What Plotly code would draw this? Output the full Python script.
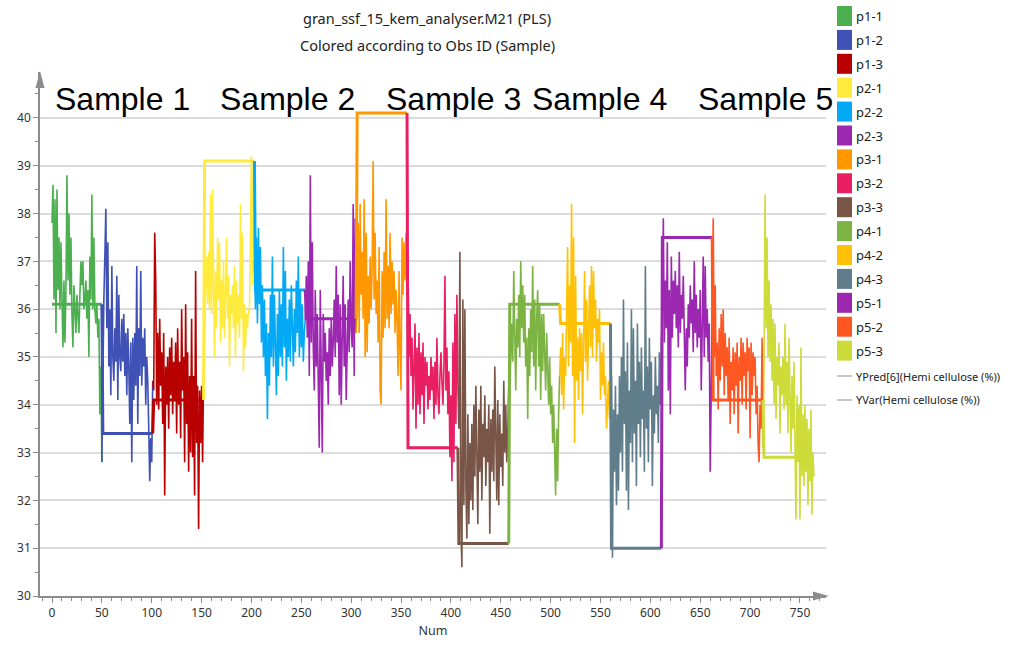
import plotly.graph_objects as go

# ---------------- data ----------------
group_names = ["p1-1", "p1-2", "p1-3", "p2-1", "p2-2", "p2-3", "p3-1", "p3-2",
               "p3-3", "p4-1", "p4-2", "p4-3", "p5-1", "p5-2", "p5-3"]
group_colors = ["#4CAF50", "#3F51B5", "#B80000", "#FFEB3B", "#03A9F4", "#9C27B0",
                "#FF9800", "#E91E63", "#795548", "#7CB342", "#FFC107", "#607D8B",
                "#9C27B0", "#FF5722", "#CDDC39"]
points_per_group = 51

# observed (YVar) value per group
yvar_values = [36.1, 33.4, 34.1, 39.1, 36.4, 35.8, 40.1, 33.1, 31.1,
               36.1, 35.7, 31.0, 37.5, 34.1, 32.9]

# predicted values (YPred[6]) per group
ypred_p1_1 = [37.8, 38.6, 36.2, 38.3, 35.5, 38.5, 36.4, 37.5, 36.0, 37.4, 36.2, 35.2, 36.6,
              35.3, 36.4, 38.8, 36.6, 38.0, 36.3, 37.5, 35.9, 35.2, 36.5, 36.0, 35.5, 36.3,
              35.9, 35.5, 36.3, 37.0, 36.5, 37.0, 36.0, 36.2, 36.6, 35.8, 36.4, 35.0, 37.1,
              36.2, 38.4, 36.0, 37.5, 36.0, 35.7, 36.1, 35.4, 35.8, 33.8, 34.8, 32.8]
ypred_p1_2 = [35.0, 36.2, 37.1, 38.1, 35.6, 37.4, 34.8, 36.0, 34.2, 36.9, 35.0, 34.5, 35.6,
              34.9, 36.7, 34.1, 36.3, 35.0, 34.7, 35.8, 34.9, 35.9, 34.6, 35.5, 34.2, 35.6,
              34.8, 33.6, 35.3, 32.8, 35.4, 34.1, 35.5, 34.4, 36.9, 33.6, 35.6, 34.6, 36.8,
              34.4, 35.4, 34.8, 35.6, 34.0, 35.0, 34.5, 33.5, 32.4, 33.3, 32.8, 34.5]
ypred_p1_3 = [34.3, 37.6, 36.6, 34.0, 35.5, 33.9, 35.8, 34.4, 35.1, 33.6, 35.5, 32.1, 34.8,
              34.0, 35.0, 33.5, 35.2, 34.2, 35.4, 33.8, 34.9, 34.1, 35.3, 33.4, 35.6, 34.0,
              34.9, 33.3, 36.0, 34.3, 35.0, 32.8, 36.1, 33.6, 35.1, 32.6, 34.6, 33.0, 35.8,
              32.9, 34.6, 32.1, 36.8, 33.2, 34.4, 31.4, 34.3, 33.2, 34.4, 32.8, 34.7]
ypred_p2_1 = [35.3, 36.6, 37.1, 36.1, 37.2, 36.0, 38.4, 35.9, 38.5, 36.5, 35.0, 36.8, 35.6,
              37.5, 36.2, 37.4, 35.3, 36.6, 35.6, 37.0, 35.4, 36.3, 37.5, 35.8, 36.7, 34.8,
              36.3, 35.9, 36.5, 35.6, 36.9, 35.0, 36.6, 35.7, 36.3, 35.4, 38.2, 35.8, 37.6,
              34.7, 36.1, 35.2, 35.9, 35.6, 36.0, 35.9, 38.1, 39.2, 36.5, 39.1, 37.0]
ypred_p2_2 = [36.0, 37.5, 35.7, 37.7, 36.1, 37.3, 35.3, 36.5, 35.0, 36.2, 34.6, 35.7, 33.7,
              35.5, 34.4, 36.3, 35.0, 37.1, 34.8, 36.3, 35.2, 34.2, 35.9, 34.6, 36.4, 35.0,
              36.1, 34.8, 37.3, 35.2, 36.8, 34.5, 35.8, 35.0, 36.2, 34.9, 36.5, 35.3, 34.8,
              36.0, 35.1, 36.6, 35.5, 37.1, 35.0, 36.4, 35.2, 36.1, 34.9, 35.5, 35.8]
ypred_p2_3 = [36.7, 35.4, 37.0, 34.6, 38.8, 35.3, 37.4, 35.2, 34.3, 36.4, 34.8, 35.9, 33.8,
              33.1, 36.4, 34.5, 33.0, 35.9, 34.9, 35.5, 34.5, 35.1, 34.0, 35.6, 34.6, 35.8,
              34.8, 35.3, 36.2, 35.0, 36.9, 35.3, 36.3, 34.2, 36.1, 34.0, 35.4, 36.7, 34.8,
              36.1, 34.1, 35.4, 36.2, 35.1, 37.0, 35.6, 35.2, 38.2, 34.6, 37.9, 35.5]
ypred_p3_1 = [36.2, 37.8, 35.5, 38.2, 36.3, 37.2, 35.8, 38.3, 35.0, 37.6, 35.1, 36.7, 35.7,
              37.1, 36.0, 36.9, 39.1, 36.2, 37.6, 35.9, 36.6, 35.3, 37.3, 34.3, 34.0, 36.8,
              35.4, 37.2, 35.6, 38.3, 35.8, 36.9, 35.6, 37.6, 35.9, 37.0, 36.1, 36.8, 35.5,
              36.4, 35.8, 34.6, 36.8, 35.1, 34.3, 37.5, 36.3, 37.4, 36.6, 37.6, 36.3]
ypred_p3_2 = [36.8, 35.0, 35.9, 34.6, 35.4, 33.9, 34.8, 35.7, 33.5, 35.2, 34.0, 35.5, 33.8,
              35.1, 34.2, 35.3, 33.6, 35.0, 34.4, 34.9, 33.9, 34.6, 34.1, 35.0, 34.3, 34.8,
              33.7, 34.9, 34.0, 35.4, 34.2, 33.8, 34.6, 35.1, 34.5, 34.0, 34.8, 36.7, 34.3,
              35.2, 33.8, 34.7, 32.9, 34.2, 32.4, 35.3, 32.8, 35.9, 33.6, 36.3, 34.4]
ypred_p3_3 = [33.5, 37.2, 31.5, 30.6, 36.2, 31.9, 36.0, 32.3, 31.2, 33.8, 31.5, 33.2, 32.0,
              33.6, 31.8, 34.0, 32.5, 34.4, 33.0, 31.5, 33.9, 32.6, 34.4, 32.0, 33.6, 32.9,
              34.2, 32.3, 33.5, 32.8, 34.0, 31.3, 33.7, 32.6, 33.9, 32.4, 34.8, 33.1, 32.0,
              34.1, 31.9, 33.8, 32.7, 33.4, 32.3, 34.5, 33.0, 34.0, 32.8, 33.4, 34.4]
ypred_p4_1 = [34.2, 35.0, 35.7, 34.9, 36.8, 35.5, 34.3, 35.8, 35.2, 36.3, 35.0, 37.0, 35.6,
              36.5, 35.3, 36.3, 34.8, 35.4, 33.7, 35.6, 34.6, 36.0, 35.1, 36.9, 34.8, 36.2,
              34.3, 35.8, 36.4, 34.8, 36.1, 34.1, 35.9, 34.7, 35.9, 35.1, 34.3, 35.5, 34.6,
              34.0, 35.0, 33.8, 34.4, 33.2, 34.0, 32.8, 32.1, 33.5, 32.4, 33.8, 34.6]
ypred_p4_2 = [35.2, 34.2, 35.5, 33.9, 35.0, 34.6, 35.8, 37.3, 34.8, 36.5, 35.3, 38.2, 34.6,
              37.5, 33.2, 36.7, 34.5, 35.4, 34.1, 35.6, 34.7, 35.5, 33.8, 35.4, 36.8, 34.9,
              36.2, 34.5, 35.7, 36.5, 35.2, 36.9, 35.0, 36.8, 35.6, 36.2, 34.9, 35.8, 35.3,
              36.0, 34.1, 35.1, 34.4, 35.3, 34.2, 34.6, 33.5, 34.0, 34.5, 33.7, 34.0]
ypred_p4_3 = [34.6, 30.8, 33.9, 32.6, 34.4, 31.9, 33.8, 32.2, 34.6, 33.0, 35.0, 32.6, 36.2,
              33.6, 34.7, 32.2, 35.3, 31.8, 34.3, 33.2, 36.0, 32.8, 35.6, 33.4, 34.5, 32.3,
              35.7, 33.6, 34.9, 32.9, 35.2, 33.7, 34.3, 32.6, 36.9, 33.5, 34.8, 32.8, 35.4,
              33.9, 34.9, 32.3, 34.2, 33.4, 35.0, 33.8, 34.4, 33.2, 35.1, 34.0, 35.3]
ypred_p5_1 = [35.8, 37.9, 35.3, 36.6, 35.6, 37.4, 34.3, 36.4, 33.8, 37.1, 35.4, 36.6, 35.9,
              36.8, 35.6, 36.5, 35.2, 37.2, 35.5, 36.3, 35.8, 36.7, 35.3, 34.3, 35.6, 34.8,
              36.1, 35.4, 36.5, 35.7, 36.2, 35.1, 37.0, 35.5, 36.3, 35.2, 36.0, 35.4, 36.4,
              34.3, 35.6, 37.1, 35.0, 36.9, 35.4, 36.0, 34.9, 35.7, 32.6, 34.9, 36.0]
ypred_p5_2 = [37.9, 35.0, 36.5, 34.6, 35.3, 33.9, 35.6, 34.5, 35.9, 34.8, 36.0, 34.2, 35.5,
              34.6, 35.2, 34.1, 35.4, 33.6, 34.9, 34.3, 35.2, 33.8, 35.1, 34.4, 35.3, 33.4,
              35.0, 34.5, 35.4, 34.0, 35.3, 34.6, 35.1, 33.9, 35.4, 34.7, 35.2, 33.3, 35.3,
              34.2, 35.1, 34.6, 35.0, 33.8, 34.4, 33.2, 32.8, 34.0, 33.5, 35.4, 33.1]
ypred_p5_3 = [34.9, 38.4, 35.6, 37.5, 35.0, 36.6, 34.9, 36.1, 34.5, 35.8, 34.0, 35.7, 33.7,
              35.0, 34.4, 35.3, 33.4, 34.8, 34.2, 35.0, 33.9, 35.7, 34.0, 34.9, 33.4, 35.4,
              34.2, 33.0, 34.6, 33.5, 34.9, 33.2, 31.6, 34.2, 32.8, 34.0, 31.6, 35.2, 32.5,
              33.8, 32.3, 34.0, 32.6, 33.7, 31.9, 33.5, 32.4, 33.9, 31.7, 33.0, 32.5]

ypred_groups = [ypred_p1_1, ypred_p1_2, ypred_p1_3, ypred_p2_1, ypred_p2_2, ypred_p2_3,
                ypred_p3_1, ypred_p3_2, ypred_p3_3, ypred_p4_1, ypred_p4_2, ypred_p4_3,
                ypred_p5_1, ypred_p5_2, ypred_p5_3]

sample_labels = ["Sample 1", "Sample 2", "Sample 3", "Sample 4", "Sample 5"]
sample_label_x = [1, 166, 333, 479, 646]

x_ticks = list(range(0, 751, 50))
y_ticks = list(range(30, 41))

title_line1 = "gran_ssf_15_kem_analyser.M21 (PLS)"
title_line2 = "Colored according to Obs ID (Sample)"
legend_ypred = "YPred[6](Hemi cellulose (%))"
legend_yvar = "YVar(Hemi cellulose (%))"

# ---------------- figure ----------------
FONT = "Noto Sans"
W, H = 1016, 645
L, R, T, B = 40, 190, 72, 49
PW, PH = W - L - R, H - T - B


def px(xp):
    return (xp - L) / PW


def py(yp):
    return (H - B - yp) / PH


fig = go.Figure()

# predicted lines (connected across groups)
for k, vals in enumerate(ypred_groups):
    start = k * points_per_group
    xs = list(range(start, start + len(vals)))
    ys = list(vals)
    if k > 0:
        xs = [start - 1] + xs
        ys = [ypred_groups[k - 1][-1]] + ys
    fig.add_trace(go.Scatter(x=xs, y=ys, mode="lines", name=group_names[k],
                             line=dict(color=group_colors[k], width=1.6),
                             showlegend=False, hoverinfo="x+y"))

# observed step lines
for k, v in enumerate(yvar_values):
    start = k * points_per_group
    xs = list(range(start, start + points_per_group))
    ys = [v] * points_per_group
    if k > 0:
        xs = [start - 1] + xs
        ys = [yvar_values[k - 1]] + ys
    fig.add_trace(go.Scatter(x=xs, y=ys, mode="lines", name=group_names[k] + " YVar",
                             line=dict(color=group_colors[k], width=3),
                             showlegend=False, hoverinfo="x+y"))

shapes = []
annotations = []

# axis arrows
shapes.append(dict(type="path", xref="paper", yref="paper",
                   path=f"M {px(40)},{py(71)} L {px(35.5)},{py(88)} L {px(44.5)},{py(88)} Z",
                   fillcolor="#8C8C8C", line=dict(width=0)))
shapes.append(dict(type="path", xref="paper", yref="paper",
                   path=f"M {px(829)},{py(596)} L {px(813)},{py(591.5)} L {px(813)},{py(600.5)} Z",
                   fillcolor="#8C8C8C", line=dict(width=0)))

# manual legend
for i, (name, col) in enumerate(zip(group_names, group_colors)):
    cy = 16 + 23.9 * i
    shapes.append(dict(type="rect", xref="paper", yref="paper",
                       x0=px(837), x1=px(852), y0=py(cy - 10), y1=py(cy + 10),
                       fillcolor=col, line=dict(width=0)))
    annotations.append(dict(text=name, xref="paper", yref="paper", x=px(854), y=py(cy),
                            xanchor="left", yanchor="middle", showarrow=False,
                            font=dict(family=FONT, size=13, color="#222")))
for cy, txt in [(376, legend_ypred), (400, legend_yvar)]:
    shapes.append(dict(type="line", xref="paper", yref="paper",
                       x0=px(837), x1=px(852), y0=py(cy), y1=py(cy),
                       line=dict(color="#C8C8C8", width=2)))
    annotations.append(dict(text=txt, xref="paper", yref="paper", x=px(854), y=py(cy),
                            xanchor="left", yanchor="middle", showarrow=False,
                            font=dict(family=FONT, size=11, color="#222")))

# titles
annotations.append(dict(text=title_line1, xref="paper", yref="paper", x=px(427), y=py(18),
                        xanchor="center", yanchor="middle", showarrow=False,
                        font=dict(family=FONT, size=14.5, color="#222")))
annotations.append(dict(text=title_line2, xref="paper", yref="paper", x=px(427), y=py(45),
                        xanchor="center", yanchor="middle", showarrow=False,
                        font=dict(family=FONT, size=14.5, color="#222")))

# sample labels
for lbl, xl in zip(sample_labels, sample_label_x):
    annotations.append(dict(text=lbl, x=xl, xref="x", y=py(99), yref="paper",
                            xanchor="left", yanchor="middle", showarrow=False,
                            font=dict(family="Liberation Sans, Arial", size=32, color="#000")))

fig.update_layout(
    width=W, height=H,
    margin=dict(l=L, r=R, t=T, b=B),
    paper_bgcolor="white", plot_bgcolor="white",
    showlegend=False,
    shapes=shapes, annotations=annotations,
    font=dict(family=FONT, size=12, color="#333"),
)
fig.update_xaxes(
    range=[-12.03, 776.1], tickvals=x_ticks, ticktext=[str(t) for t in x_ticks],
    showgrid=False, zeroline=False, showline=True, linecolor="#8C8C8C", linewidth=1.5,
    ticks="outside", ticklen=5, tickcolor="#8C8C8C", automargin=False,
    minor=dict(dtick=10, tick0=0, ticks="outside", ticklen=3, tickcolor="#8C8C8C", showgrid=False),
    tickfont=dict(family=FONT, size=12, color="#333"),
    title=dict(text="Num", font=dict(family=FONT, size=12.5, color="#333"), standoff=6),
)
fig.update_yaxes(
    range=[30, 40.96], tickvals=y_ticks, ticktext=[str(t) for t in y_ticks],
    showgrid=True, gridcolor="#DCDCDC", gridwidth=2, zeroline=False,
    showline=True, linecolor="#8C8C8C", linewidth=1.5, automargin=False,
    ticks="outside", ticklen=5, tickcolor="#8C8C8C",
    minor=dict(dtick=0.5, tick0=30, ticks="outside", ticklen=3, tickcolor="#8C8C8C", showgrid=False),
    tickfont=dict(family=FONT, size=12, color="#333"),
)

fig.write_html("out.html", config={"displayModeBar": False},
               post_script="document.body.style.margin='0';document.body.style.padding='0';")
